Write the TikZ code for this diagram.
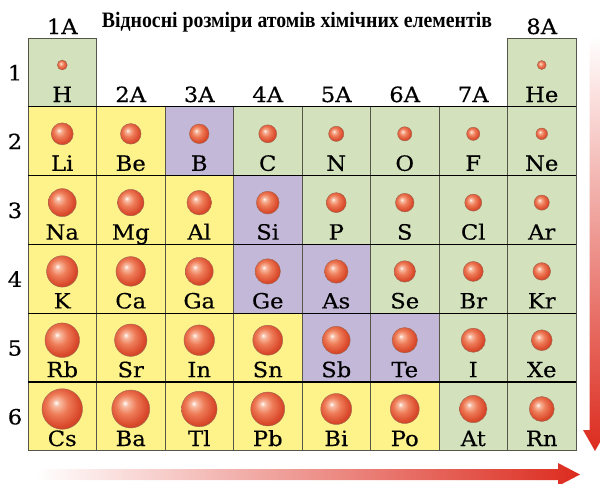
\documentclass[tikz,border=0pt]{standalone}
\usepackage{fontspec}
\setmainfont{DejaVu Serif}
\newfontfamily\labfont{DejaVu Serif}[FakeBold=0.35, FakeStretch=1.08]
\newfontfamily\titlefont{Liberation Serif}
\definecolor{cY}{HTML}{FEF38B}
\definecolor{cG}{HTML}{D3E2BD}
\definecolor{cP}{HTML}{C4B8D9}
\definecolor{gridgray}{HTML}{55554A}
\definecolor{atomHi}{HTML}{F8BCA3}
\definecolor{atomMid}{HTML}{EE7B57}
\definecolor{atomDark}{HTML}{DA4A2C}
\definecolor{atomEdge}{HTML}{C23A20}
\definecolor{ballline}{HTML}{9A6A55}
\definecolor{arrred}{HTML}{DC2B1E}
\definecolor{arrmid}{HTML}{EC8F6E}
\pgfdeclareradialshading{atomball}{\pgfqpoint{-8bp}{8bp}}{color(0bp)=(white); color(4bp)=(atomHi); color(13bp)=(atomMid); color(25bp)=(atomDark); color(33bp)=(atomEdge); color(50bp)=(atomEdge)}
\begin{document}
\begin{tikzpicture}[x=1pt,y=-1pt,
  cell/.style={draw=gridgray, line width=0.8pt, minimum width=68.5pt, minimum height=68.8pt, inner sep=0pt, outer sep=0pt},
  atom/.style={circle, shade, shading=atomball, draw=ballline, line width=0.4pt, inner sep=0pt, outer sep=0pt},
  elem/.style={font=\labfont\fontsize{21}{21}\selectfont, anchor=base, inner sep=0pt},
  grp/.style={font=\labfont\fontsize{21}{21}\selectfont, anchor=base, inner sep=0pt},
  per/.style={font=\labfont\fontsize{21}{21}\selectfont, anchor=base, inner sep=0pt},
  rowline/.style={draw=black, line width=1.1pt}]
\useasboundingbox (0,0) rectangle (600,483);
% gradient arrows
\shade[left color=white, middle color=arrmid, right color=arrred]
  (35,469) -- (558,469) -- (558,463) -- (580,474.5) -- (558,486) -- (558,480) -- (35,480) -- cycle;
\shade[top color=white, middle color=arrmid, bottom color=arrred]
  (589.5,36) -- (601,36) -- (601,430) -- (607,430) -- (595,451) -- (583,430) -- (589.5,430) -- cycle;
% title
\node[font=\titlefont\bfseries\fontsize{22}{22}\selectfont, anchor=base, inner sep=0pt] (title) at (297,27)
  {\scalebox{0.9}[1]{Відносні розміри атомів хімічних елементів}};
% group labels
\node[grp] (g1) at (62.25,34) {1A};
\node[grp] (g8) at (541.75,34) {8A};
\foreach \c/\t in {2/2A,3/3A,4/4A,5/5A,6/6A,7/7A}{
  \pgfmathsetmacro\cx{28+68.5*(\c-0.5)}
  \node[grp] (g\c) at (\cx,102) {\t};
}
% period labels
\foreach \r in {1,...,6}{
  \pgfmathsetmacro\ry{38+68.8*(\r-0.5)+8}
  \node[per] (p\r) at (15,\ry) {\r};
}
% cells
\foreach \c/\r/\n/\f in {
 1/1/H/G, 8/1/He/G,
 1/2/Li/Y, 2/2/Be/Y, 3/2/B/P, 4/2/C/G, 5/2/N/G, 6/2/O/G, 7/2/F/G, 8/2/Ne/G,
 1/3/Na/Y, 2/3/Mg/Y, 3/3/Al/Y, 4/3/Si/P, 5/3/P/G, 6/3/S/G, 7/3/Cl/G, 8/3/Ar/G,
 1/4/K/Y, 2/4/Ca/Y, 3/4/Ga/Y, 4/4/Ge/P, 5/4/As/P, 6/4/Se/G, 7/4/Br/G, 8/4/Kr/G,
 1/5/Rb/Y, 2/5/Sr/Y, 3/5/In/Y, 4/5/Sn/Y, 5/5/Sb/P, 6/5/Te/P, 7/5/I/G, 8/5/Xe/G,
 1/6/Cs/Y, 2/6/Ba/Y, 3/6/Tl/Y, 4/6/Pb/Y, 5/6/Bi/Y, 6/6/Po/Y, 7/6/At/G, 8/6/Rn/G}{
  \pgfmathsetmacro\cx{28+68.5*(\c-0.5)}
  \pgfmathsetmacro\ty{38+68.8*(\r-1)}
  \node[cell, fill=c\f] (cell-\n) at (\cx,\ty+34.4) {};
}
% row separators
\foreach \k in {1,...,5}{
  \pgfmathsetmacro\ly{38+68.8*\k}
  \coordinate (sl\k) at (28,\ly);
  \coordinate (sr\k) at (576,\ly);
  \draw[rowline] (sl\k) -- (sr\k);
}
% atoms and symbols
\foreach \c/\r/\n/\s in {
 1/1/H/5, 8/1/He/4.5,
 1/2/Li/11, 2/2/Be/10.3, 3/2/B/9.8, 4/2/C/9, 5/2/N/7.6, 6/2/O/7.1, 7/2/F/6.6, 8/2/Ne/5.8,
 1/3/Na/14, 2/3/Mg/13.2, 3/3/Al/12.3, 4/3/Si/11.4, 5/3/P/10, 6/3/S/9.3, 7/3/Cl/8.5, 8/3/Ar/7.6,
 1/4/K/15.7, 2/4/Ca/14.8, 3/4/Ga/14, 4/4/Ge/12.7, 5/4/As/11.8, 6/4/Se/10.7, 7/4/Br/10, 8/4/Kr/8.8,
 1/5/Rb/17.3, 2/5/Sr/16.2, 3/5/In/15.3, 4/5/Sn/15, 5/5/Sb/13.9, 6/5/Te/12.7, 7/5/I/12.1, 8/5/Xe/10.4,
 1/6/Cs/20.3, 2/6/Ba/19, 3/6/Tl/17.8, 4/6/Pb/17, 5/6/Bi/15.5, 6/6/Po/14.5, 7/6/At/13.7, 8/6/Rn/12.5}{
  \pgfmathsetmacro\cx{28+68.5*(\c-0.5)}
  \pgfmathsetmacro\ty{38+68.8*(\r-1)}
  \pgfmathsetmacro\dd{2*\s}
  \node[atom, minimum size=\dd pt] (atom-\n) at (\cx,\ty+27) {};
  \node[elem] (sym-\n) at (\cx,\ty+64) {\n};
}
\end{tikzpicture}
\end{document}
